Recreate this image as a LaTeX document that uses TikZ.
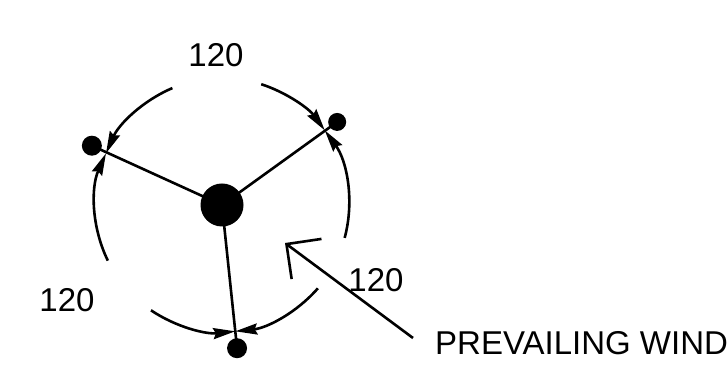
\documentclass[tikz,border=0pt]{standalone}
\usepackage{fontspec}
\setmainfont{Liberation Sans}
\usetikzlibrary{arrows.meta}
\begin{document}
\begin{tikzpicture}[x=1pt,y=1pt,
  ln/.style={line width=2.6pt},
  arcarrow/.style={ln,-{Stealth[length=22pt,width=11pt,inset=2.5pt]}},
  dot/.style={circle,fill=black,inner sep=0pt,minimum size=20pt},
  lbl/.style={font=\fontsize{33}{39}\selectfont,inner sep=0pt}]
\useasboundingbox (0,0) rectangle (727,374);
\node[circle,fill=black,inner sep=0pt,minimum size=43pt] (c) at (222,169) {};
% spoke ends and dots
\coordinate (e1) at ([shift={(156:127)}]c.center);
\coordinate (e2) at ([shift={(36:127)}]c.center);
\coordinate (e3) at ([shift={(-84:127)}]c.center);
\node[dot] (d1) at ([shift={(155.5:143)}]c.center) {};
\node[dot,minimum size=18pt] (d2) at ([shift={(35.8:142)}]c.center) {};
\node[dot] (d3) at ([shift={(-84:144)}]c.center) {};
\draw[ln] (c.center) -- (d1.center);
\draw[ln] (c.center) -- (d2.center);
\draw[ln] (c.center) -- (d3.center);
% arcs
\draw[arcarrow] ([shift={(113:127)}]c.center) arc[start angle=113,end angle=156,radius=127];
\draw[arcarrow] ([shift={(72:127)}]c.center) arc[start angle=72,end angle=36,radius=127];
\draw[arcarrow] ([shift={(-15:127)}]c.center) arc[start angle=-15,end angle=36,radius=127];
\draw[arcarrow] ([shift={(-41:127)}]c.center) arc[start angle=-41,end angle=-84,radius=127];
\draw[arcarrow] ([shift={(206:127)}]c.center) arc[start angle=206,end angle=156,radius=127];
\draw[arcarrow] ([shift={(236:127)}]c.center) arc[start angle=236,end angle=276,radius=127];
% labels
\node[lbl] (t1) at (216,319) {120};
\node[lbl] (t2) at (67,74) {120};
\node[lbl] (t3) at (376,94) {120};
\node[lbl,anchor=base west] (pw) at (435,19) {PREVAILING WIND};
% wind arrow
\coordinate (w0) at (413,36);
\coordinate (wt) at (285,131);
\draw[ln,-{Straight Barb[length=25pt,width=50pt]}] (w0) -- (wt);
\end{tikzpicture}
\end{document}
